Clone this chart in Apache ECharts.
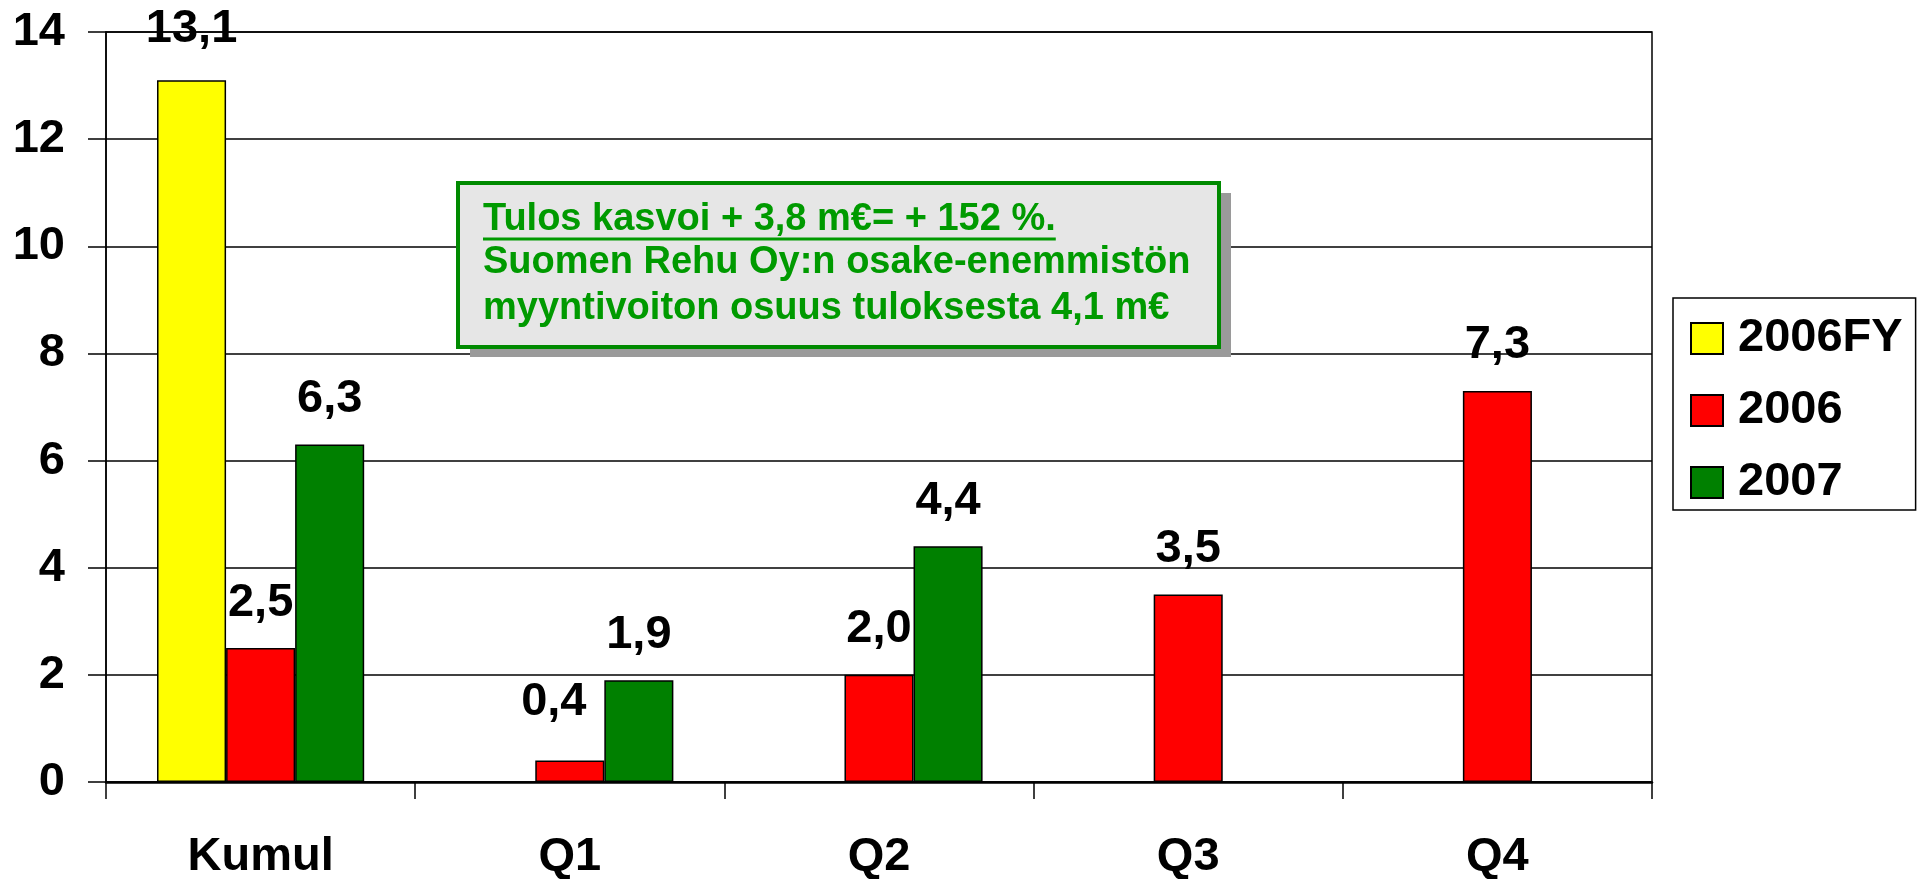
<!DOCTYPE html>
<html>
<head>
<meta charset="utf-8">
<script src="https://cdn.jsdelivr.net/npm/echarts@6/dist/echarts.min.js"></script>
<style>
  html, body { margin: 0; padding: 0; background: #fff; }
  #chart { width: 1919px; height: 879px; }
</style>
</head>
<body>
<div id="chart"></div>
<script>
// kategoriat ja sarjat
const categories = ['Kumul', 'Q1', 'Q2', 'Q3', 'Q4'];
const seriesNames = ['2006FY', '2006', '2007'];
const fy2006 = [13.1, null, null, null, null];
const q2006 = [2.5, 0.4, 2.0, 3.5, 7.3];
const q2007 = [6.3, 1.9, 4.4, null, null];
const yTicks = [0, 2, 4, 6, 8, 10, 12, 14];
const noteLines = [
  'Tulos kasvoi + 3,8 m€= + 152 %.',
  'Suomen Rehu Oy:n osake-enemmistön',
  'myyntivoiton osuus tuloksesta 4,1 m€'
];

const FONT = '"Liberation Sans", Arial, sans-serif';
const colors = ['#ffff00', '#ff0000', '#008000'];

// alleviivauksen leveys
const ctx = document.createElement('canvas').getContext('2d');
ctx.font = 'bold 38px "Liberation Sans"';
const underlineW = ctx.measureText(noteLines[0]).width;

function fmt(v) {
  return v.toFixed(1).replace('.', ',');
}

// muutaman arvotekstin siirto kuten alkuperäisessä
const labelShift = {
  '2006FY-0': [0, -6],
  '2006-1': [-16, -13],
};

function makeSeries(name, values, color) {
  return {
    name: name,
    type: 'bar',
    barGap: 0,
    barCategoryGap: '33%',
    itemStyle: { color: color, borderColor: '#000', borderWidth: 1.5 },
    label: {
      show: true,
      position: 'top',
      distance: 22,
      color: '#000',
      fontFamily: FONT,
      fontWeight: 'bold',
      fontSize: 47,
      formatter: (p) => fmt(p.value),
    },
    data: values.map((v, i) => {
      const off = labelShift[name + '-' + i];
      return off ? { value: v, label: { offset: off } } : v;
    }),
  };
}

const chart = echarts.init(document.getElementById('chart'));
const option = {
  animation: false,
  textStyle: { fontFamily: FONT },
  grid: {
    left: 106,
    right: 267,
    top: 32,
    height: 750,
    outerBoundsMode: 'none',
    show: true,
    borderColor: '#000',
    borderWidth: 1.5,
  },
  legend: {
    orient: 'vertical',
    left: 1673,
    top: 298,
    padding: [17, 13, 4, 17],
    icon: 'rect',
    itemWidth: 32,
    itemHeight: 31,
    itemGap: 25,
    borderColor: '#000',
    borderWidth: 1.5,
    backgroundColor: '#fff',
    textStyle: {
      fontFamily: FONT,
      fontWeight: 'bold',
      fontSize: 47,
      color: '#000',
      padding: [0, 0, 0, 10],
    },
    data: seriesNames,
  },
  xAxis: {
    type: 'category',
    data: categories,
    axisLine: { lineStyle: { color: '#000', width: 2.5 } },
    axisTick: { show: true, length: 17, lineStyle: { color: '#000', width: 1.5 } },
    axisLabel: {
      margin: 52,
      color: '#000',
      fontFamily: FONT,
      fontWeight: 'bold',
      fontSize: 47,
    },
  },
  yAxis: {
    type: 'value',
    min: yTicks[0],
    max: yTicks[yTicks.length - 1],
    interval: 2,
    axisLine: { show: true, lineStyle: { color: '#000', width: 1.5 } },
    axisTick: { show: true, length: 18, lineStyle: { color: '#000', width: 1.5 } },
    splitLine: { lineStyle: { color: '#000', width: 1.5 } },
    axisLabel: {
      margin: 41,
      color: '#000',
      fontFamily: FONT,
      fontWeight: 'bold',
      fontSize: 47,
    },
  },
  series: [
    makeSeries(seriesNames[0], fy2006, colors[0]),
    makeSeries(seriesNames[1], q2006, colors[1]),
    makeSeries(seriesNames[2], q2007, colors[2]),
  ],
  graphic: [
    {
      type: 'rect',
      z: 20,
      shape: { x: 470, y: 193, width: 761, height: 164 },
      style: { fill: '#9a9a9a' },
    },
    {
      type: 'rect',
      z: 21,
      shape: { x: 458, y: 183, width: 761, height: 164 },
      style: { fill: '#e6e6e6', stroke: '#008a00', lineWidth: 4 },
    },
    ...noteLines.map((t, i) => ({
      type: 'text',
      z: 22,
      x: 483,
      y: [220, 263, 309][i],
      style: {
        text: t,
        fill: '#009a00',
        font: 'bold 38px ' + FONT,
        verticalAlign: 'middle',
        textShadowColor: 'rgba(0,0,0,0.07)',
        textShadowOffsetX: 12,
        textShadowOffsetY: 16,
      },
    })),
    {
      type: 'line',
      z: 22,
      shape: { x1: 483, y1: 239, x2: 483 + underlineW, y2: 239 },
      style: { stroke: '#009a00', lineWidth: 3 },
    },
  ],
};
chart.setOption(option);
</script>
</body>
</html>
